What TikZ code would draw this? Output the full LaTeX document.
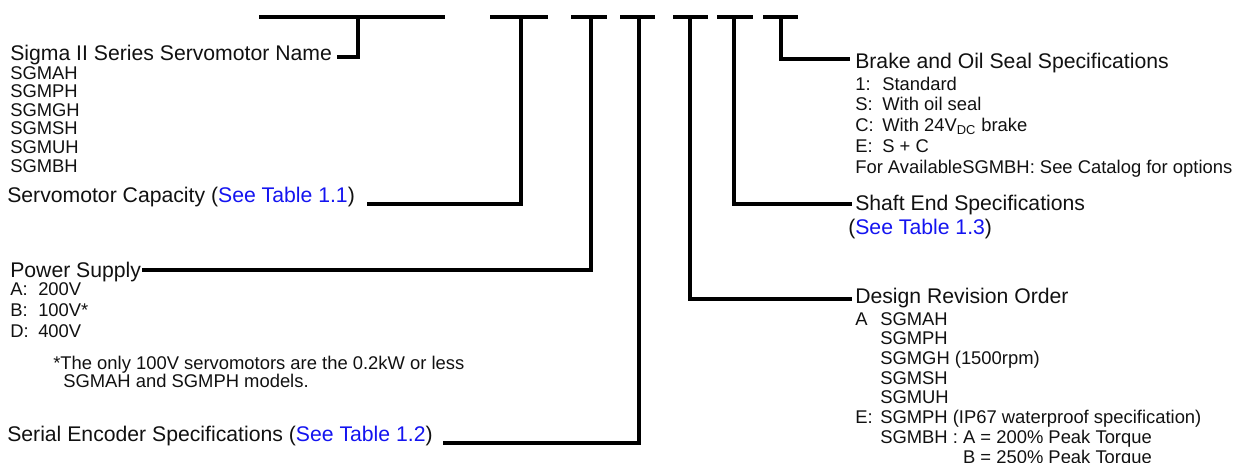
\documentclass[tikz,border=0pt]{standalone}
\usepackage{fontspec}
\setmainfont{Liberation Sans}
\usepackage{xcolor}
\definecolor{link}{HTML}{1414F0}
\definecolor{txt}{HTML}{111111}
\newcommand\tagbox[2][20.25pt]{\makebox[#1][l]{#2}}
\newcommand\stacklines[1]{\begin{tabular}[t]{@{}l@{}}#1\end{tabular}}

\begin{document}
\begin{tikzpicture}[
  x=0.75pt, y=-0.75pt,
  lead/.style={line width=3pt, line join=miter, draw=black},
  head/.style={
    font=\fontsize{15.9}{18}\selectfont,
    inner sep=0pt,
    anchor=base west,
    text=txt
  },
  items/.style={
    font=\fontsize{13.8}{#1}\selectfont,
    inner sep=0pt,
    anchor=base west,
    text=txt
  }
]
  \useasboundingbox (0,0) rectangle (1235,462);

  % Code bars along the top
  \draw[lead] (259,17) -- (445,17);
  \draw[lead] (490,17) -- (548,17);
  \draw[lead] (571,17) -- (607,17);
  \draw[lead] (620,17) -- (655,17);
  \draw[lead] (673,17) -- (708,17);
  \draw[lead] (717,17) -- (753,17);
  \draw[lead] (763,17) -- (798,17);
  \coordinate (t1) at (358,17);
  \coordinate (t2) at (521,17);
  \coordinate (t3) at (591,17);
  \coordinate (t4) at (639,17);
  \coordinate (t5) at (690,17);
  \coordinate (t6) at (734,17);
  \coordinate (t7) at (781,17);

  % Left labels
  \node[head] (name) at (10,60) {Sigma II Series Servomotor Name};
  \node[items=13.95pt] (series) at (10,79) {\stacklines{SGMAH\\SGMPH\\SGMGH\\SGMSH\\SGMUH\\SGMBH}};
  \node[head] (cap) at (7,202) {Servomotor Capacity (\textcolor{link}{See Table 1.1})};
  \node[head] (power) at (10,277) {Power Supply};
  \node[items=16pt] (volt) at (10,295) {\stacklines{\tagbox[21pt]{A:}200V\\\tagbox[21pt]{B:}100V*\\\tagbox[21pt]{D:}400V}};
  \node[items=13.5pt] (note) at (53,369) {\stacklines{*The only 100V servomotors are the 0.2kW or less\\\hspace*{7.5pt}SGMAH and SGMPH models.}};
  \node[head] (enc) at (7,441) {Serial Encoder Specifications (\textcolor{link}{See Table 1.2})};

  % Right labels
  \node[head] (brake) at (855,68) {Brake and Oil Seal Specifications};
  \node[items=15.6pt] (brakelist) at (855,90) {\stacklines{\tagbox{1:}Standard\\\tagbox{S:}With oil seal\\\tagbox{C:}With 24V\textsubscript{DC} brake\\\tagbox{E:}S + C\\For AvailableSGMBH: See Catalog for options}};
  \node[head] (shaft) at (855,210) {Shaft End Specifications};
  \node[head] (shaftref) at (848,234) {(\textcolor{link}{See Table 1.3})};
  \node[head] (design) at (855,303) {Design Revision Order};
  \node[items=14.8pt] (designlist) at (855,325) {\stacklines{\tagbox[18.75pt]{A}SGMAH\\\tagbox[18.75pt]{}SGMPH\\\tagbox[18.75pt]{}SGMGH (1500rpm)\\\tagbox[18.75pt]{}SGMSH\\\tagbox[18.75pt]{}SGMUH\\\tagbox[18.75pt]{E:}SGMPH (IP67 waterproof specification)\\\tagbox[18.75pt]{}SGMBH : A = 200\% Peak Torque\\\tagbox[18.75pt]{}\phantom{SGMBH : }B = 250\% Peak Torque}};

  % Leader lines
  \coordinate (nameEnd) at (337,57);
  \coordinate (capEnd) at (367,204);
  \coordinate (powerEnd) at (142,270);
  \coordinate (encEnd) at (443,443);
  \coordinate (designEnd) at (852,299);
  \coordinate (shaftEnd) at (852,204);
  \coordinate (brakeEnd) at (850,59);
  \draw[lead] (t1) |- (nameEnd);
  \draw[lead] (t2) |- (capEnd);
  \draw[lead] (t3) |- (powerEnd);
  \draw[lead] (t4) |- (encEnd);
  \draw[lead] (t5) |- (designEnd);
  \draw[lead] (t6) |- (shaftEnd);
  \draw[lead] (t7) |- (brakeEnd);
\end{tikzpicture}
\end{document}
